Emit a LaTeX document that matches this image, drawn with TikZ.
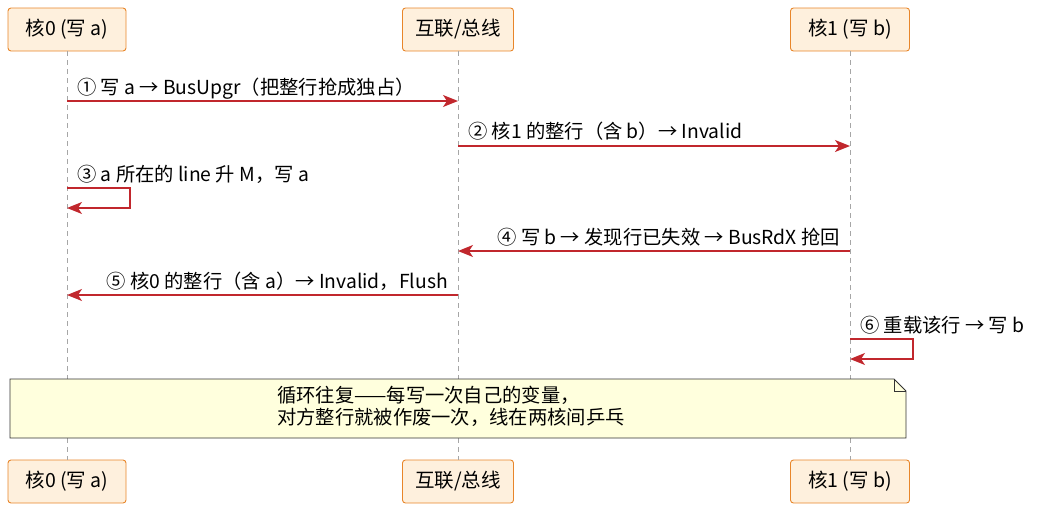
\documentclass[tikz,border=0pt]{standalone}
\usepackage{fontspec}
\setmainfont{Noto Sans CJK SC}
\usetikzlibrary{arrows.meta}
\definecolor{arr}{HTML}{C1272D}
\definecolor{pfill}{HTML}{FEF0DD}
\definecolor{pdraw}{HTML}{E8862A}
\definecolor{nfill}{HTML}{FFFFDD}
\begin{document}
\begin{tikzpicture}[x=1pt,y=-1pt,
  part/.style={draw=pdraw,fill=pfill,rounded corners=3pt,minimum height=43pt,inner xsep=10pt,line width=0.9pt,font=\fontsize{19.5}{22}\selectfont},
  life/.style={draw=gray!70,dash pattern=on 5pt off 4pt,line width=0.7pt},
  msg/.style={draw=arr,line width=1.5pt,-{Stealth[length=15pt,width=12pt,inset=4pt]}},
  lab/.style={font=\fontsize{19.3}{22}\selectfont,inner sep=0pt}]
\useasboundingbox (0,0) rectangle (1038,512);
\node[part,minimum width=118pt] (a1) at (67,29.5) {核0 (写 a)};
\node[part,minimum width=111pt] (b1) at (458,29.5) {互联/总线};
\node[part,minimum width=119pt] (c1) at (850,29.5) {核1 (写 b)};
\node[part,minimum width=118pt] (a2) at (67,481.5) {核0 (写 a)};
\node[part,minimum width=111pt] (b2) at (458,481.5) {互联/总线};
\node[part,minimum width=119pt] (c2) at (850,481.5) {核1 (写 b)};
\draw[life] (a1) -- (a2);
\draw[life] (b1) -- (b2);
\draw[life] (c1) -- (c2);
\coordinate (a101) at (67,101); \coordinate (b101) at (458,101);
\draw[msg] (a101) -- (b101);
\node[lab,anchor=base west] (l1) at (77,94) {① 写 a → BusUpgr（把整行抢成独占）};
\coordinate (b146) at (458,146); \coordinate (c146) at (850,146);
\draw[msg] (b146) -- (c146);
\node[lab,anchor=base west] (l2) at (468,138) {② 核1 的整行（含 b）→ Invalid};
\coordinate (a188) at (67,188); \coordinate (a208) at (67,208);
\draw[msg] (a188) -- (130,188) -- (130,208) -- (a208);
\node[lab,anchor=base west] (l3) at (77,181) {③ a 所在的 line 升 M，写 a};
\coordinate (c251) at (850,251); \coordinate (b251) at (458,251);
\draw[msg] (c251) -- (b251);
\node[lab,anchor=base east] (l4) at (840,244) {④ 写 b → 发现行已失效 → BusRdX 抢回};
\coordinate (b295) at (458,295); \coordinate (a295) at (67,295);
\draw[msg] (b295) -- (a295);
\node[lab,anchor=base east] (l5) at (448,288) {⑤ 核0 的整行（含 a）→ Invalid，Flush};
\coordinate (c339) at (850,339); \coordinate (c359) at (850,359);
\draw[msg] (c339) -- (913,339) -- (913,359) -- (c359);
\node[lab,anchor=base west] (l6) at (860,332) {⑥ 重载该行 → 写 b};
\draw[fill=nfill,draw=black!80,line width=0.8pt] (10,379) -- (894,379) -- (906,391) -- (906,438) -- (10,438) -- cycle;
\draw[draw=black!80,line width=0.8pt] (894,379) -- (894,391) -- (906,391);
\node[lab,anchor=base west] (note) at (277,402) {循环往复——每写一次自己的变量，};
\node[lab,anchor=base west] (note2) at (277,424) {对方整行就被作废一次，线在两核间乒乓};
\end{tikzpicture}
\end{document}
